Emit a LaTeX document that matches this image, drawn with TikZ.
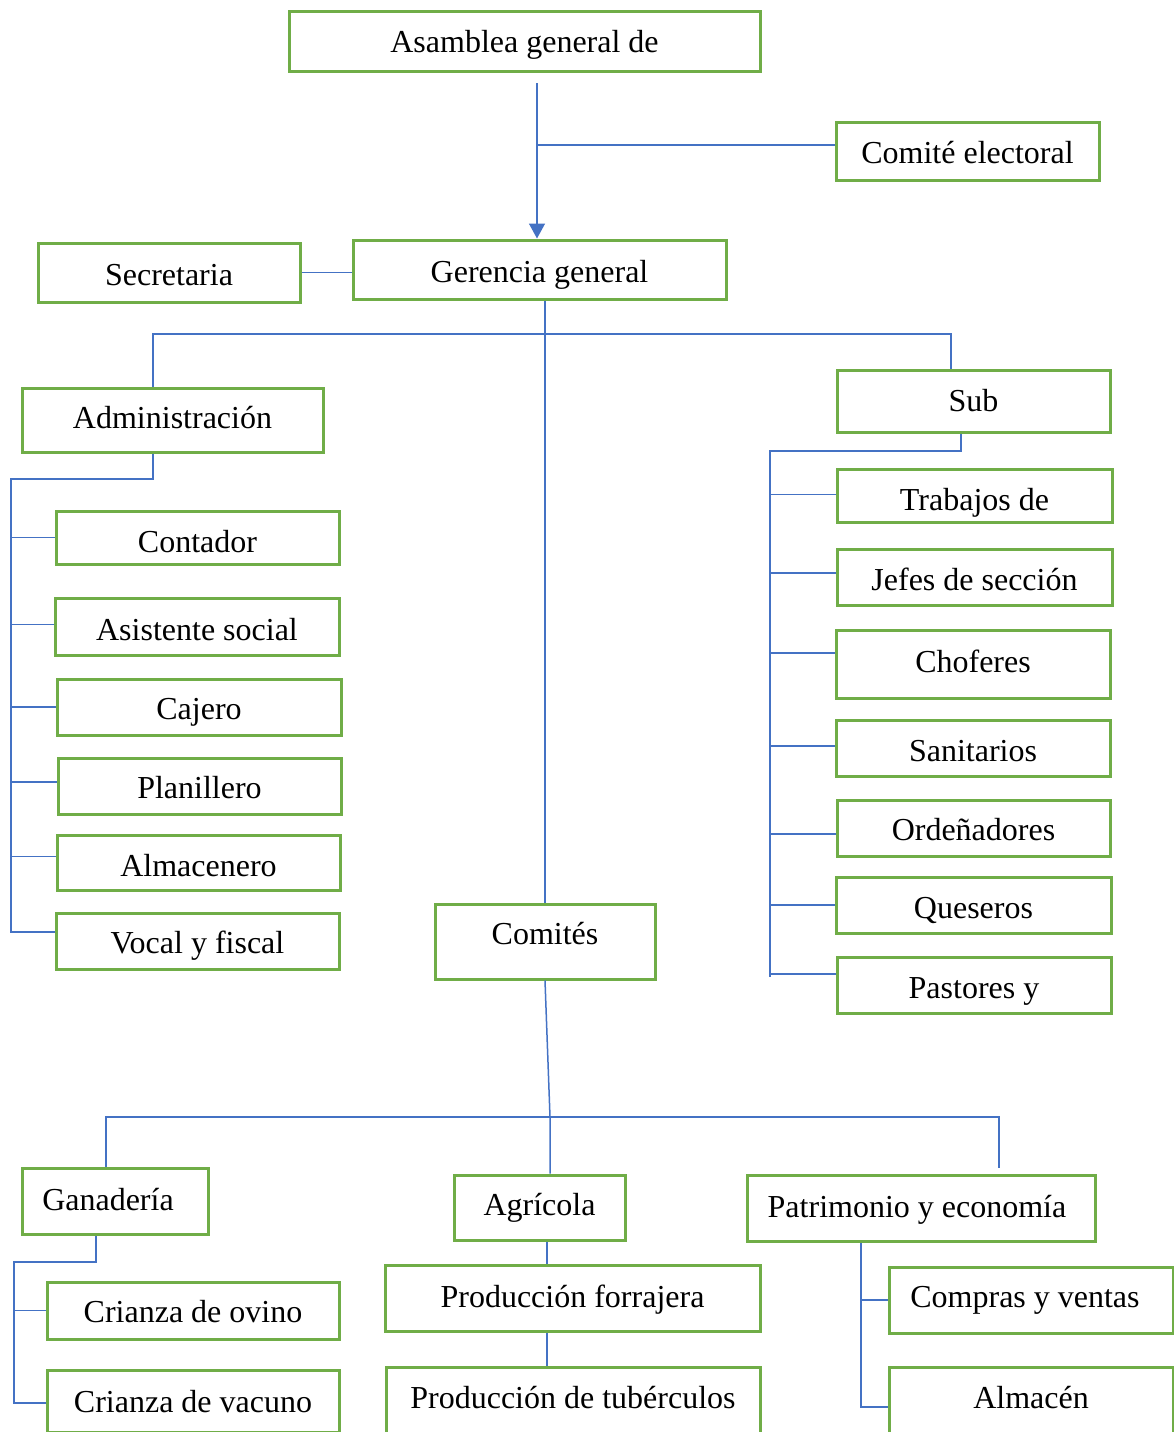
\documentclass[tikz,border=0pt]{standalone}
\usepackage{fontspec}
\setmainfont{Liberation Serif}
\usetikzlibrary{positioning,calc,arrows,arrows.meta}

\definecolor{verde}{RGB}{112,173,71}
\definecolor{azul}{RGB}{68,114,196}

% base line of the text, below the centre of the box
\tikzset{bl/.code={\pgfmathsetmacro\blh{16+#1}\pgfmathsetmacro\bld{16-#1}%
	\tikzset{text height=\blh pt, text depth=\bld pt}}}

\begin{document}
\begin{tikzpicture}
	\begin{scope}[x=1pt, y=-1pt]
		\tikzstyle{every node}=[inner sep=0pt, font=\fontsize{32}{38}\selectfont, bl=12.5]
		\tikzstyle{caja}=[draw=verde, line width=3pt, fill=white]
		\tikzstyle{linea}=[draw=azul, line width=1.5pt]

		\useasboundingbox (0, 0) rectangle (1174, 1432);
		\clip (0, 0) rectangle (1174, 1432);

		% cabeza
		\node [caja, minimum width=471, minimum height=60, bl=11] (asam)   at (524.5, 41)  {Asamblea general de};
		\node [caja, minimum width=263, minimum height=58, bl=12] (comite) at (967.5, 151) {Comité electoral};
		\node [caja, minimum width=262, minimum height=59] (secre)  at (169, 272.5) {Secretaria};
		\node [caja, minimum width=373, minimum height=59] (geren)  at (539.5, 269.5) {Gerencia general};

		\node [caja, minimum width=301, minimum height=64, bl=8] (admin) at (172.5, 420) {Administración};
		\node [caja, minimum width=273, minimum height=62, bl=10] (sub)  at (973.5, 401) {Sub};

		% administracion
		\node [caja, minimum width=283, minimum height=53, bl=14.5] (conta) at (197.5, 537.5) {Contador};
		\node [caja, minimum width=284, minimum height=57, bl=13.5] (asist) at (197, 626.5)   {Asistente social};
		\node [caja, minimum width=284, minimum height=56, bl=12] (cajer) at (199, 707)     {Cajero};
		\node [caja, minimum width=283, minimum height=56, bl=12] (plani) at (199.5, 786)   {Planillero};
		\node [caja, minimum width=283, minimum height=55, bl=13.5] (almac) at (198.5, 862.5) {Almacenero};
		\node [caja, minimum width=283, minimum height=56, bl=12] (vocal) at (197.5, 941)   {Vocal y fiscal};

		% sub gerencia
		\node [caja, minimum width=275, minimum height=53, bl=14.5] (traba) at (974.5, 495.5) {Trabajos de};
		\node [caja, minimum width=275, minimum height=56, bl=13] (jefes) at (974.5, 577)   {Jefes de sección};
		\node [caja, minimum width=274, minimum height=68, bl=8] (chofe) at (973, 664)     {Choferes};
		\node [caja, minimum width=274, minimum height=56, bl=13] (sanit) at (973, 748)     {Sanitarios};
		\node [caja, minimum width=273, minimum height=56, bl=12] (orden) at (973.5, 828)   {Ordeñadores};
		\node [caja, minimum width=275, minimum height=56, bl=13] (quese) at (973.5, 905)   {Queseros};
		\node [caja, minimum width=274, minimum height=56, bl=13] (pasto) at (974, 985)     {Pastores y};

		\node [caja, minimum width=220, minimum height=75, bl=2.5] (comis) at (545, 941.5) {Comités};

		% comites
		\node [caja, minimum width=186, minimum height=66, bl=9] (ganad)  at (115, 1201)    {\kern-14pt Ganadería};
		\node [caja, minimum width=171, minimum height=65, bl=7.5] (agric)  at (539.5, 1207.5) {Agrícola};
		\node [caja, minimum width=348, minimum height=66, bl=9] (patri)  at (921, 1208)    {\kern-8pt Patrimonio y economía};

		\node [caja, minimum width=292, minimum height=57, bl=11.5] (ovino)  at (193, 1310.5) {Crianza de ovino};
		\node [caja, minimum width=292, minimum height=62, bl=11] (vacun)  at (193, 1401)   {Crianza de vacuno};
		\node [caja, minimum width=375, minimum height=66, bl=9] (forra)  at (572.5, 1298) {Producción forrajera};
		\node [caja, minimum width=374, minimum height=66, bl=8] (tuber)  at (573, 1400)   {Producción de tubérculos};
		\node [caja, minimum width=284, minimum height=66, bl=7] (compr)  at (1031, 1300)  {\kern-12pt Compras y ventas};
		\node [caja, minimum width=284, minimum height=66, bl=8] (almcn)  at (1031, 1400)  {Almacén};

		\coordinate (a0) at (537, 83);
		\coordinate (a1) at (537, 145);
		\coordinate (b1) at (153, 334);
		\coordinate (b2) at (951, 334);
		\coordinate (l0) at (11, 479);
		\coordinate (s1) at (961, 451);
		\coordinate (r0) at (770, 451);
		\coordinate (k1) at (550, 1117);
		\coordinate (g1) at (106, 1117);
		\coordinate (g2) at (999, 1117);
		\coordinate (g3) at (999, 1168);
		\coordinate (h1) at (96, 1262);
		\coordinate (h0) at (14, 1262);
		\coordinate (p1) at (547, 1240);
		\coordinate (q1) at (861, 1241);

		\draw [linea, -{Triangle[width=16pt, length=15pt]}] (a0) to (a0 |- geren.north);
		\draw [linea] (a1) to (a1 -| comite.west);
		\draw [linea] (secre.east) to (secre.east -| geren.west);
		\draw [linea] (comis.north |- geren.south) to (comis.north);

		\draw [linea] (b1 |- admin.north) -- (b1) -- (b2) -- (b2 |- sub.north);

		\draw [linea] (b1 |- admin.south) -- (b1 |- l0) -- (l0) -- ($(l0 |- vocal.west)+(0,-9)$) -- ($(vocal.west)+(0,-9)$);
		\foreach \n/\d in {conta/0, asist/-2, cajer/0, plani/-4, almac/-6}
			\draw [linea] ($(l0 |- \n.west)+(0,\d)$) to ($(\n.west)+(0,\d)$);

		\draw [linea] (s1 |- sub.south) -- (s1) -- (r0) -- ($(r0 |- pasto.west)+(0,-8)$);
		\foreach \n/\d in {traba/-1, jefes/-4, chofe/-11, sanit/-2, orden/6, quese/0, pasto/-11}
			\draw [linea] ($(r0 |- \n.west)+(0,\d)$) to ($(\n.west)+(0,\d)$);

		\draw [linea] (comis.south) -- (k1) -- (k1 |- agric.north);
		\draw [linea] (g1 |- ganad.north) -- (g1) -- (g2) -- (g3);

		\draw [linea] (h1 |- ganad.south) -- (h1) -- (h0) -- ($(h0 |- vacun.west)+(0,2)$) -- ($(vacun.west)+(0,2)$);
		\draw [linea] (h0 |- ovino.west) to (ovino.west);

		\draw [linea] (p1 |- agric.south) to (p1 |- forra.north);
		\draw [linea] (p1 |- forra.south) to (p1 |- tuber.north);

		\draw [linea] (q1 |- patri.south) -- ($(q1 |- almcn.west)+(0,7)$) -- ($(almcn.west)+(0,7)$);
		\draw [linea] (q1 |- compr.west) to (compr.west);

	\end{scope}
\end{tikzpicture}
\end{document}
